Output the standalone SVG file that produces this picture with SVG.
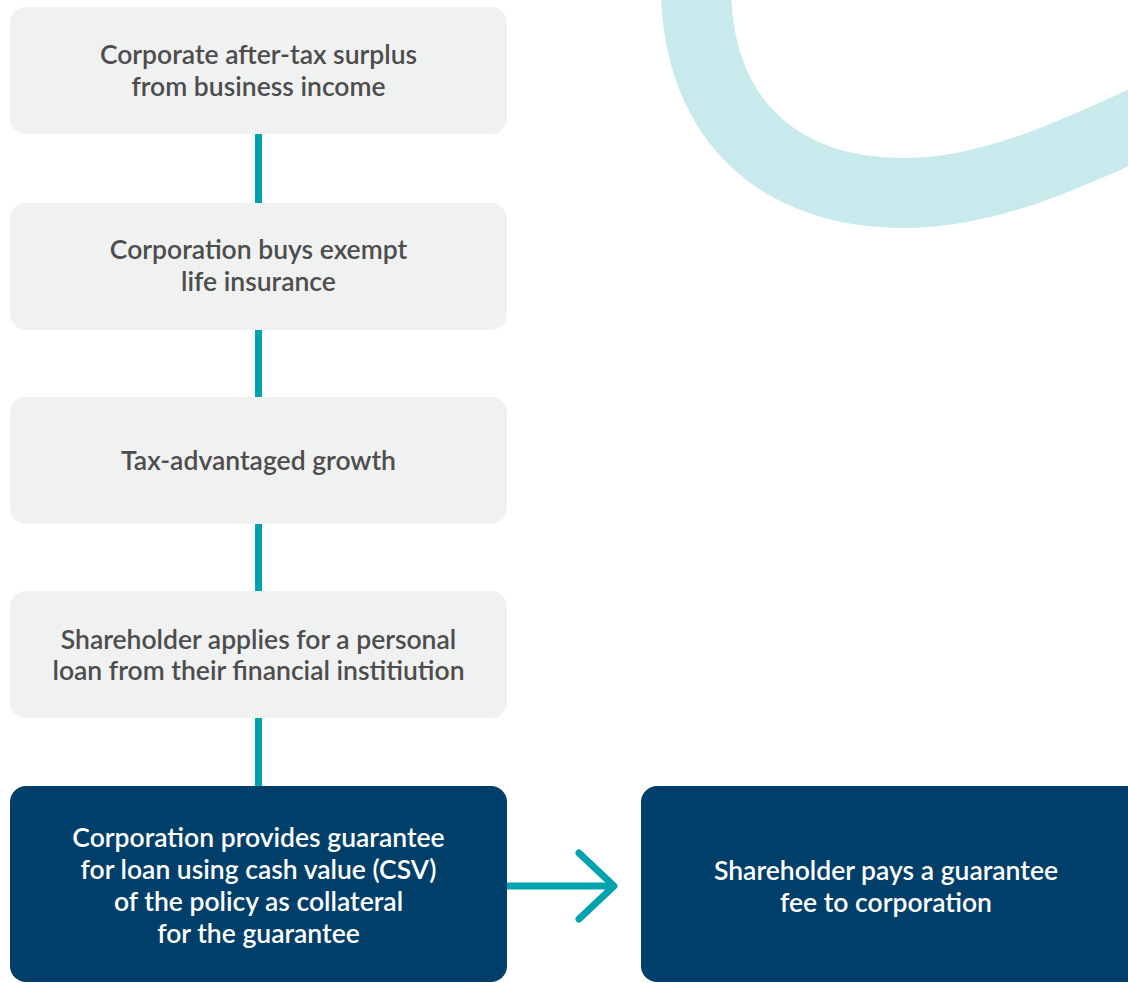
<svg xmlns="http://www.w3.org/2000/svg" width="1128" height="983" viewBox="0 0 1128 983">
<style>
.light{fill:#f0f1f1}
.dark{fill:#003f6a}
.t{font-family:Lato,"Open Sans","Liberation Sans",sans-serif;font-size:26.5px;font-weight:600;text-anchor:middle;dominant-baseline:central}
.tg{fill:#4d4d4d}
.tw{fill:#ffffff}
.conn{stroke:#00a3ad;stroke-width:7;fill:none;stroke-linecap:round;stroke-linejoin:round}
</style>
<rect width="1128" height="983" fill="#ffffff"/>
<path d="M 696 -10 C 698 125 785 195 908 193 C 985 192 1060 160 1150 118" fill="none" stroke="#c8eaec" stroke-width="70"/>
<g id="connectors">
<line class="conn" x1="258.5" y1="134" x2="258.5" y2="203" stroke-linecap="butt"/>
<line class="conn" x1="258.5" y1="330" x2="258.5" y2="397" stroke-linecap="butt"/>
<line class="conn" x1="258.5" y1="524" x2="258.5" y2="591" stroke-linecap="butt"/>
<line class="conn" x1="258.5" y1="718" x2="258.5" y2="786" stroke-linecap="butt"/>
<line class="conn" x1="507" y1="886" x2="612" y2="886" stroke-linecap="butt"/>
<polyline class="conn" points="579,853 614,886 579,919"/>
</g>
<g id="n1"><rect class="light" x="10" y="7" width="497" height="127" rx="16"/>
<text class="t tg" x="258.5" y="54">Corporate after-tax surplus</text>
<text class="t tg" x="258.5" y="86">from business income</text></g>
<g id="n2"><rect class="light" x="10" y="203" width="497" height="127" rx="16"/>
<text class="t tg" x="258.5" y="249">Corporation buys exempt</text>
<text class="t tg" x="258.5" y="281">life insurance</text></g>
<g id="n3"><rect class="light" x="10" y="397" width="497" height="127" rx="16"/>
<text class="t tg" x="258.5" y="460">Tax-advantaged growth</text></g>
<g id="n4"><rect class="light" x="10" y="591" width="497" height="127" rx="16"/>
<text class="t tg" x="258.5" y="639">Shareholder applies for a personal</text>
<text class="t tg" x="258.5" y="670">loan from their financial institiution</text></g>
<g id="n5"><rect class="dark" x="10" y="786" width="497" height="196" rx="16"/>
<text class="t tw" x="258.5" y="837">Corporation provides guarantee</text>
<text class="t tw" x="258.5" y="869">for loan using cash value (CSV)</text>
<text class="t tw" x="258.5" y="901">of the policy as collateral</text>
<text class="t tw" x="258.5" y="933">for the guarantee</text></g>
<g id="n6"><rect class="dark" x="641" y="786" width="505" height="196" rx="16"/>
<text class="t tw" x="886" y="870">Shareholder pays a guarantee</text>
<text class="t tw" x="886" y="902">fee to corporation</text></g>
</svg>
